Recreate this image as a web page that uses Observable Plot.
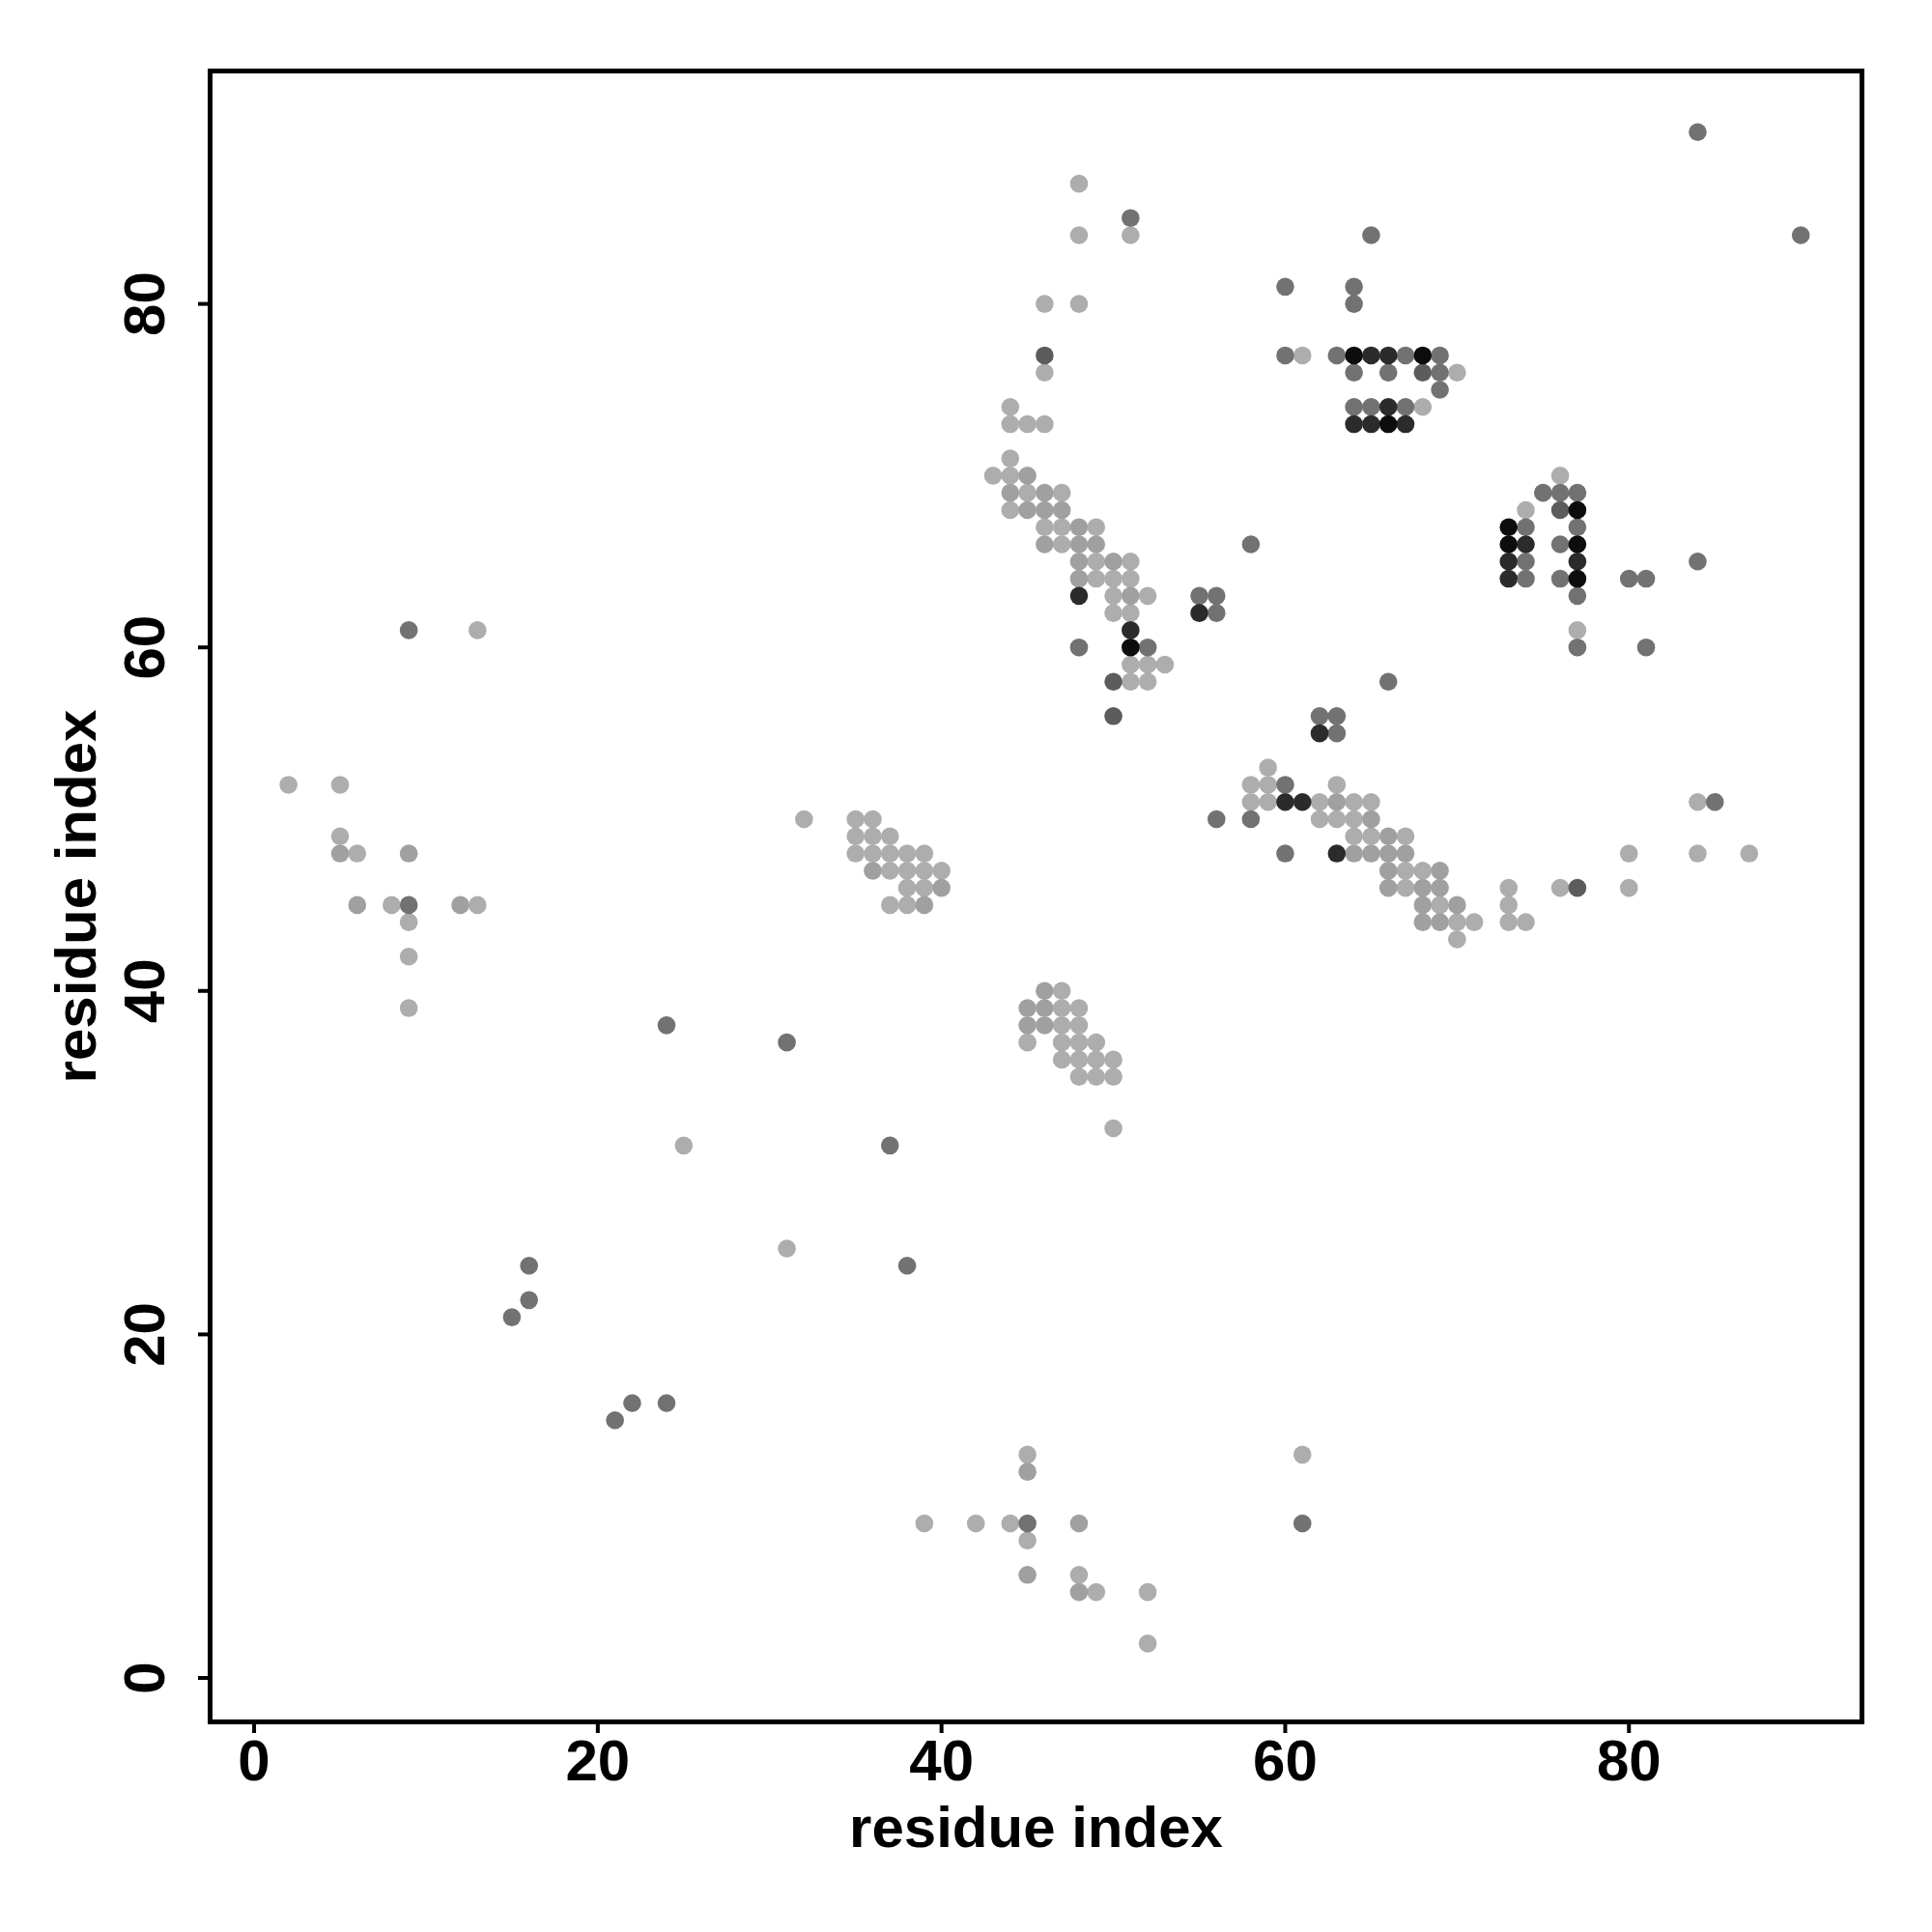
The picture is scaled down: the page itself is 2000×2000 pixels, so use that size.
<!DOCTYPE html>
<html><head><meta charset="utf-8">
<script src="https://cdn.jsdelivr.net/npm/d3@7"></script>
<script src="https://cdn.jsdelivr.net/npm/@observablehq/plot@0.6"></script>
<style>body{margin:0;background:#fff}</style>
</head><body><div id="chart"></div>
<script>
// contact points [residue i, residue j], grouped by shade level
const level1 = [[13,61],[2,52],[5,52],[5,49],[6,48],[8,45],[13,45],[9,44],[9,42],[9,39],
  [32,50],[35,50],[36,50],[35,49],[36,49],[37,49],[35,48],[36,48],[37,48],[38,48],[39,48],[37,47],[38,47],[39,47],[40,47],[38,46],[39,46],[37,45],[38,45],
  [47,40],[47,39],[48,39],[47,38],[48,38],[45,37],[47,37],[48,37],[49,37],[47,36],[48,36],[49,36],[50,36],[48,35],[49,35],[50,35],[50,32],
  [45,13],[39,9],[42,9],[44,9],[45,8],[48,6],[49,5],[52,5],[52,2],
  [48,87],[51,84],[48,84],[46,80],[48,80],[46,76],[44,74],[44,73],[45,73],[46,73],[44,71],[43,70],[44,70],[45,69],[47,69],[44,68],[46,67],[47,67],[49,67],[47,66],[49,65],[51,65],[49,64],[50,64],[51,64],[50,63],[52,63],[50,62],[51,62],[51,59],[52,59],[53,59],[51,58],[52,58],
  [61,77],[70,76],[68,74],[76,70],[74,68],[77,61],
  [59,53],[58,52],[59,52],[63,52],[58,51],[59,51],[62,51],[64,51],[65,51],[62,50],[63,50],[64,50],[64,49],[65,49],[67,49],[67,47],[68,47],[67,46],[69,45],[70,44],[71,44],[70,43],
  [84,51],[80,48],[84,48],[87,48],[73,46],[76,46],[80,46],[73,45],[73,44],[74,44],
  [25,31],[31,25],[61,13]];
const level2 = [[5,48],[9,48],[6,45],[12,45],[36,47],[40,46],[39,45],
  [46,40],[45,39],[46,39],[45,38],[46,38],[45,12],[48,9],[45,6],[48,5],
  [45,70],[44,69],[46,69],[45,68],[46,68],[47,68],[48,67],[46,66],[48,66],[49,66],[48,65],[50,65],[48,64],[51,63],
  [63,51],[65,50],[66,49],[64,48],[65,48],[66,48],[67,48],[66,47],[69,47],[66,46],[68,46],[69,46],[68,45],[70,45],[68,44],[69,44]];
const level3 = [[9,61],[9,45],[45,9],[51,85],[48,60],[52,60],
  [65,84],[60,81],[64,81],[64,80],[60,77],[63,77],[67,77],[69,77],[64,76],[66,76],[69,76],[69,75],[64,74],[65,74],[67,74],
  [58,66],[55,63],[56,63],[56,62],[66,58],[62,56],[63,56],[63,55],
  [75,69],[76,69],[77,69],[74,67],[77,67],[76,66],[74,65],[84,65],[74,64],[76,64],[80,64],[81,64],[77,63],[77,60],[81,60],
  [60,52],[56,50],[58,50],[60,48],[85,51],
  [24,38],[31,37],[37,31],[38,24],[16,24],[16,22],[15,21],[22,16],[24,16],[21,15],
  [61,9],[84,90],[90,84]];
const level4 = [[46,77],[50,58],[50,56],[68,76],[76,68],[77,46]];
const level5 = [[48,63],[51,61],[65,77],[66,77],[66,74],[64,73],[65,73],[67,73],[55,62],[62,55],[74,66],[73,65],[77,65],[73,64],[60,51],[61,51],[63,48]];
const level6 = [[51,60],[64,77],[68,77],[66,73],[77,68],[73,67],[73,66],[77,66],[77,64]];

const shadeLevels = [1,2,3,4,5,6];
const shadeColors = ["#adadad","#a0a0a0","#727272","#5c5c5c","#2b2b2b","#0d0d0d"];
const xTicks = [0,20,40,60,80];
const yTicks = [0,20,40,60,80];
const axisTitle = "residue index";

const groups = [level1,level2,level3,level4,level5,level6];
const contacts = groups.flatMap((g,k)=>g.map(([i,j])=>({i, j, shade: shadeLevels[k]})));

const font = "'Liberation Sans', Arial, Helvetica, sans-serif";
const fs = 60;
const plot = Plot.plot({
  width: 2000, height: 2000,
  marginLeft: 217, marginRight: 73, marginTop: 73, marginBottom: 218,
  x: {domain: [-2.56, 93.56], axis: null},
  y: {domain: [-2.56, 93.56], axis: null},
  color: {type: "ordinal", domain: shadeLevels, range: shadeColors},
  style: {fontFamily: font, background: "#fff", color: "#000"},
  marks: [
    Plot.dot(contacts, {x: "i", y: "j", r: 9.3, fill: "shade"}),
    Plot.frame({stroke: "#000", strokeWidth: 5}),
    Plot.axisX({ticks: xTicks, tickSize: 12, strokeWidth: 4, tickFormat: () => "", label: null}),
    Plot.axisY({ticks: yTicks, tickSize: 12, strokeWidth: 4, tickFormat: () => "", label: null}),
    Plot.text(xTicks, {x: d => d, text: d => String(d), frameAnchor: "bottom", dy: 41, lineAnchor: "middle",
      fontSize: fs, fontWeight: "bold", fill: "#000"}),
    Plot.text(yTicks, {y: d => d, text: d => String(d), frameAnchor: "left", dx: -67, rotate: -90,
      textAnchor: "middle", lineAnchor: "middle", fontSize: fs, fontWeight: "bold", fill: "#000"}),
    Plot.text([axisTitle], {text: d => d, frameAnchor: "bottom", dy: 110, textAnchor: "middle", lineAnchor: "middle",
      fontSize: fs, fontWeight: "bold", fill: "#000"}),
    Plot.text([axisTitle], {text: d => d, frameAnchor: "left", dx: -138, rotate: -90, textAnchor: "middle", lineAnchor: "middle",
      fontSize: fs, fontWeight: "bold", fill: "#000"})
  ]
});
document.getElementById("chart").appendChild(plot);
</script>
</body></html>
